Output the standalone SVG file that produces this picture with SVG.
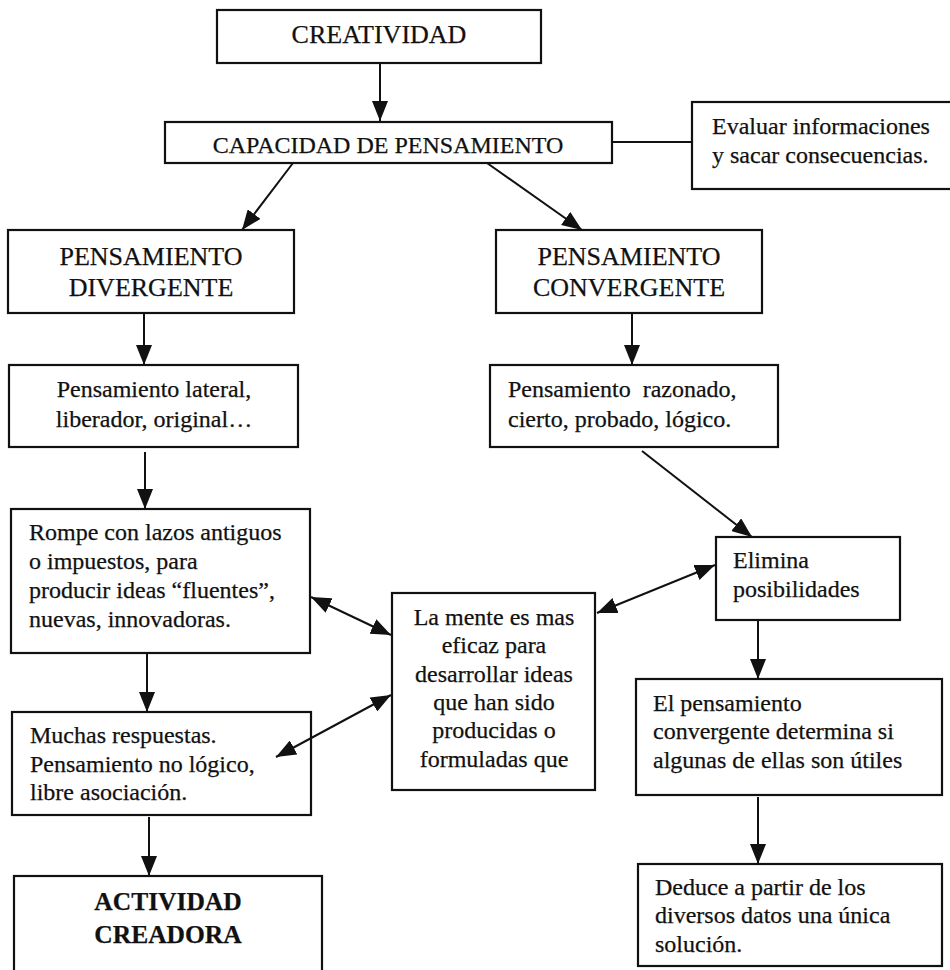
<svg xmlns="http://www.w3.org/2000/svg" width="950" height="970" viewBox="0 0 950 970" font-family="'Liberation Serif','Times New Roman',serif">
<style>
rect.b{fill:#fff;stroke:#111;stroke-width:2.2}
text{font-family:"Liberation Serif","Times New Roman",serif;fill:#111;font-size:24px;stroke:#111;stroke-width:0.25}
text.h{font-size:26px}
text.c{text-anchor:middle}
text.bold{font-weight:bold;font-size:25.5px}
#connectors line{stroke:#111;stroke-width:2}
</style>
<defs>
<marker id="ah" markerWidth="20" markerHeight="16" refX="20" refY="8" orient="auto-start-reverse" markerUnits="userSpaceOnUse">
<path d="M0,0 L20,8 L0,16 z" fill="#111"/>
</marker>
</defs>
<rect width="950" height="970" fill="#fff"/>
<g id="creatividad"><rect class="b" x="217" y="10" width="324" height="53"/><text class="h c" x="379" y="43">CREATIVIDAD</text></g>
<g id="capacidad"><rect class="b" x="165" y="122" width="447" height="41"/><text class="c" x="388" y="153" font-size="24.5">CAPACIDAD DE PENSAMIENTO</text></g>
<g id="evaluar"><rect class="b" x="692" y="102" width="262" height="87"/><text x="712" y="134">Evaluar informaciones</text><text x="712" y="163">y sacar consecuencias.</text></g>
<g id="divergente"><rect class="b" x="8" y="230" width="286" height="83"/><text class="h c" x="151" y="265">PENSAMIENTO</text><text class="h c" x="151" y="296">DIVERGENTE</text></g>
<g id="convergente"><rect class="b" x="496" y="230" width="266" height="83"/><text class="h c" x="629" y="265">PENSAMIENTO</text><text class="h c" x="629" y="296">CONVERGENTE</text></g>
<g id="lateral"><rect class="b" x="9" y="365" width="289" height="82"/><text class="c" x="154" y="397">Pensamiento lateral,</text><text class="c" x="154" y="427">liberador, original…</text></g>
<g id="razonado"><rect class="b" x="490" y="365" width="288" height="82"/><text x="508" y="397" xml:space="preserve">Pensamiento  razonado,</text><text x="508" y="427">cierto, probado, lógico.</text></g>
<g id="rompe"><rect class="b" x="11" y="509" width="299" height="144"/><text x="29" y="540">Rompe con lazos antiguos</text><text x="29" y="569">o impuestos, para</text><text x="29" y="598">producir ideas “fluentes”,</text><text x="29" y="627">nuevas, innovadoras.</text></g>
<g id="elimina"><rect class="b" x="716" y="537" width="184" height="83"/><text x="733" y="568">Elimina</text><text x="733" y="597">posibilidades</text></g>
<g id="mente"><rect class="b" x="392" y="593" width="203" height="197"/><text class="c" x="494" y="625">La mente es mas</text><text class="c" x="494" y="653">eficaz para</text><text class="c" x="494" y="682">desarrollar ideas</text><text class="c" x="494" y="710">que han sido</text><text class="c" x="494" y="738">producidas o</text><text class="c" x="494" y="767">formuladas que</text></g>
<g id="muchas"><rect class="b" x="12" y="712" width="299" height="103"/><text x="30" y="743">Muchas respuestas.</text><text x="30" y="772">Pensamiento no lógico,</text><text x="30" y="800">libre asociación.</text></g>
<g id="actividad"><rect class="b" x="14" y="876" width="308" height="100"/><text class="bold c" x="168" y="910">ACTIVIDAD</text><text class="bold c" x="168" y="943">CREADORA</text></g>
<g id="elpensamiento"><rect class="b" x="636" y="679" width="306" height="116"/><text x="653" y="711">El pensamiento</text><text x="653" y="739">convergente determina si</text><text x="653" y="768">algunas de ellas son útiles</text></g>
<g id="deduce"><rect class="b" x="638" y="864" width="304" height="102"/><text x="655" y="895">Deduce a partir de los</text><text x="655" y="923">diversos datos una única</text><text x="655" y="952">solución.</text></g>
<g id="connectors">
<line x1="380" y1="63" x2="380" y2="121" marker-end="url(#ah)"/>
<line x1="293" y1="163" x2="242" y2="230" marker-end="url(#ah)"/>
<line x1="487" y1="163" x2="582" y2="230" marker-end="url(#ah)"/>
<line x1="612" y1="142" x2="692" y2="142"/>
<line x1="144" y1="313" x2="144" y2="365" marker-end="url(#ah)"/>
<line x1="632" y1="313" x2="632" y2="365" marker-end="url(#ah)"/>
<line x1="145" y1="452" x2="145" y2="509" marker-end="url(#ah)"/>
<line x1="642" y1="451" x2="752" y2="537" marker-end="url(#ah)"/>
<line x1="147" y1="653" x2="147" y2="712" marker-end="url(#ah)"/>
<line x1="149" y1="817" x2="149" y2="876" marker-end="url(#ah)"/>
<line x1="758" y1="620" x2="758" y2="679" marker-end="url(#ah)"/>
<line x1="758" y1="797" x2="758" y2="864" marker-end="url(#ah)"/>
<line x1="311" y1="597" x2="391" y2="635" marker-start="url(#ah)" marker-end="url(#ah)"/>
<line x1="597" y1="613" x2="715" y2="565" marker-start="url(#ah)" marker-end="url(#ah)"/>
<line x1="276" y1="757" x2="391" y2="695" marker-start="url(#ah)" marker-end="url(#ah)"/>
</g>
</svg>
